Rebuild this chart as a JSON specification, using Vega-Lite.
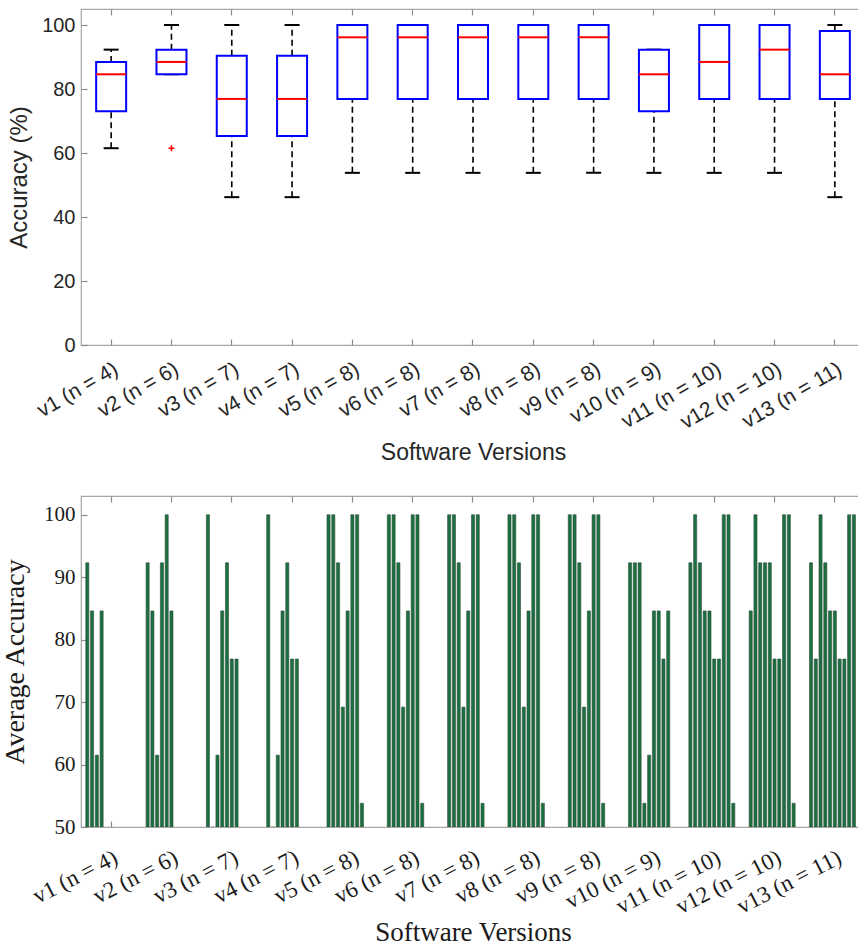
{
  "$schema": "https://vega.github.io/schema/vega-lite/v6.json",
  "padding": {"left": 0, "top": 7, "right": 0, "bottom": 0},
  "background": "white",
  "config": {
    "font": "Liberation Sans",
    "view": {"stroke": "#a6a6a6", "strokeWidth": 1.2},
    "axis": {"grid": false, "domain": false, "tickColor": "#8c8c8c", "tickSize": -6, "tickWidth": 1.2, "titleFontWeight": "normal",
      "labelFont": "Liberation Sans", "titleFont": "Liberation Sans", "labelColor": "#262626", "titleColor": "#262626"}
  },
  "datasets": {
    "boxes": [
      {"version": "v1 (n = 4)", "lower": 61.5, "q1": 73.05, "median": 84.6, "q3": 88.45, "upper": 92.3},
      {"version": "v2 (n = 6)", "lower": 84.6, "q1": 84.6, "median": 88.45, "q3": 92.3, "upper": 100},
      {"version": "v3 (n = 7)", "lower": 46.2, "q1": 65.35, "median": 76.9, "q3": 90.4, "upper": 100},
      {"version": "v4 (n = 7)", "lower": 46.2, "q1": 65.35, "median": 76.9, "q3": 90.4, "upper": 100},
      {"version": "v5 (n = 8)", "lower": 53.8, "q1": 76.9, "median": 96.15, "q3": 100, "upper": 100},
      {"version": "v6 (n = 8)", "lower": 53.8, "q1": 76.9, "median": 96.15, "q3": 100, "upper": 100},
      {"version": "v7 (n = 8)", "lower": 53.8, "q1": 76.9, "median": 96.15, "q3": 100, "upper": 100},
      {"version": "v8 (n = 8)", "lower": 53.8, "q1": 76.9, "median": 96.15, "q3": 100, "upper": 100},
      {"version": "v9 (n = 8)", "lower": 53.8, "q1": 76.9, "median": 96.15, "q3": 100, "upper": 100},
      {"version": "v10 (n = 9)", "lower": 53.8, "q1": 73.05, "median": 84.6, "q3": 92.3, "upper": 92.3},
      {"version": "v11 (n = 10)", "lower": 53.8, "q1": 76.9, "median": 88.45, "q3": 100, "upper": 100},
      {"version": "v12 (n = 10)", "lower": 53.8, "q1": 76.9, "median": 92.3, "q3": 100, "upper": 100},
      {"version": "v13 (n = 11)", "lower": 46.2, "q1": 76.9, "median": 84.6, "q3": 98.1, "upper": 100}
    ],
    "outliers": [
      {"version": "v2 (n = 6)", "acc": 61.5}
    ],
    "bars": [
      {"version": "v1 (n = 4)", "slot": 1, "acc": 92.3},
      {"version": "v1 (n = 4)", "slot": 2, "acc": 84.6},
      {"version": "v1 (n = 4)", "slot": 3, "acc": 61.5},
      {"version": "v1 (n = 4)", "slot": 4, "acc": 84.6},
      {"version": "v2 (n = 6)", "slot": 1, "acc": 92.3},
      {"version": "v2 (n = 6)", "slot": 2, "acc": 84.6},
      {"version": "v2 (n = 6)", "slot": 3, "acc": 61.5},
      {"version": "v2 (n = 6)", "slot": 4, "acc": 92.3},
      {"version": "v2 (n = 6)", "slot": 5, "acc": 100},
      {"version": "v2 (n = 6)", "slot": 6, "acc": 84.6},
      {"version": "v3 (n = 7)", "slot": 1, "acc": 100},
      {"version": "v3 (n = 7)", "slot": 2, "acc": 46.2},
      {"version": "v3 (n = 7)", "slot": 3, "acc": 61.5},
      {"version": "v3 (n = 7)", "slot": 4, "acc": 84.6},
      {"version": "v3 (n = 7)", "slot": 5, "acc": 92.3},
      {"version": "v3 (n = 7)", "slot": 6, "acc": 76.9},
      {"version": "v3 (n = 7)", "slot": 7, "acc": 76.9},
      {"version": "v4 (n = 7)", "slot": 1, "acc": 100},
      {"version": "v4 (n = 7)", "slot": 2, "acc": 46.2},
      {"version": "v4 (n = 7)", "slot": 3, "acc": 61.5},
      {"version": "v4 (n = 7)", "slot": 4, "acc": 84.6},
      {"version": "v4 (n = 7)", "slot": 5, "acc": 92.3},
      {"version": "v4 (n = 7)", "slot": 6, "acc": 76.9},
      {"version": "v4 (n = 7)", "slot": 7, "acc": 76.9},
      {"version": "v5 (n = 8)", "slot": 1, "acc": 100},
      {"version": "v5 (n = 8)", "slot": 2, "acc": 100},
      {"version": "v5 (n = 8)", "slot": 3, "acc": 92.3},
      {"version": "v5 (n = 8)", "slot": 4, "acc": 69.2},
      {"version": "v5 (n = 8)", "slot": 5, "acc": 84.6},
      {"version": "v5 (n = 8)", "slot": 6, "acc": 100},
      {"version": "v5 (n = 8)", "slot": 7, "acc": 100},
      {"version": "v5 (n = 8)", "slot": 8, "acc": 53.8},
      {"version": "v6 (n = 8)", "slot": 1, "acc": 100},
      {"version": "v6 (n = 8)", "slot": 2, "acc": 100},
      {"version": "v6 (n = 8)", "slot": 3, "acc": 92.3},
      {"version": "v6 (n = 8)", "slot": 4, "acc": 69.2},
      {"version": "v6 (n = 8)", "slot": 5, "acc": 84.6},
      {"version": "v6 (n = 8)", "slot": 6, "acc": 100},
      {"version": "v6 (n = 8)", "slot": 7, "acc": 100},
      {"version": "v6 (n = 8)", "slot": 8, "acc": 53.8},
      {"version": "v7 (n = 8)", "slot": 1, "acc": 100},
      {"version": "v7 (n = 8)", "slot": 2, "acc": 100},
      {"version": "v7 (n = 8)", "slot": 3, "acc": 92.3},
      {"version": "v7 (n = 8)", "slot": 4, "acc": 69.2},
      {"version": "v7 (n = 8)", "slot": 5, "acc": 84.6},
      {"version": "v7 (n = 8)", "slot": 6, "acc": 100},
      {"version": "v7 (n = 8)", "slot": 7, "acc": 100},
      {"version": "v7 (n = 8)", "slot": 8, "acc": 53.8},
      {"version": "v8 (n = 8)", "slot": 1, "acc": 100},
      {"version": "v8 (n = 8)", "slot": 2, "acc": 100},
      {"version": "v8 (n = 8)", "slot": 3, "acc": 92.3},
      {"version": "v8 (n = 8)", "slot": 4, "acc": 69.2},
      {"version": "v8 (n = 8)", "slot": 5, "acc": 84.6},
      {"version": "v8 (n = 8)", "slot": 6, "acc": 100},
      {"version": "v8 (n = 8)", "slot": 7, "acc": 100},
      {"version": "v8 (n = 8)", "slot": 8, "acc": 53.8},
      {"version": "v9 (n = 8)", "slot": 1, "acc": 100},
      {"version": "v9 (n = 8)", "slot": 2, "acc": 100},
      {"version": "v9 (n = 8)", "slot": 3, "acc": 92.3},
      {"version": "v9 (n = 8)", "slot": 4, "acc": 69.2},
      {"version": "v9 (n = 8)", "slot": 5, "acc": 84.6},
      {"version": "v9 (n = 8)", "slot": 6, "acc": 100},
      {"version": "v9 (n = 8)", "slot": 7, "acc": 100},
      {"version": "v9 (n = 8)", "slot": 8, "acc": 53.8},
      {"version": "v10 (n = 9)", "slot": 1, "acc": 92.3},
      {"version": "v10 (n = 9)", "slot": 2, "acc": 92.3},
      {"version": "v10 (n = 9)", "slot": 3, "acc": 92.3},
      {"version": "v10 (n = 9)", "slot": 4, "acc": 53.8},
      {"version": "v10 (n = 9)", "slot": 5, "acc": 61.5},
      {"version": "v10 (n = 9)", "slot": 6, "acc": 84.6},
      {"version": "v10 (n = 9)", "slot": 7, "acc": 84.6},
      {"version": "v10 (n = 9)", "slot": 8, "acc": 76.9},
      {"version": "v10 (n = 9)", "slot": 9, "acc": 84.6},
      {"version": "v11 (n = 10)", "slot": 1, "acc": 92.3},
      {"version": "v11 (n = 10)", "slot": 2, "acc": 100},
      {"version": "v11 (n = 10)", "slot": 3, "acc": 92.3},
      {"version": "v11 (n = 10)", "slot": 4, "acc": 84.6},
      {"version": "v11 (n = 10)", "slot": 5, "acc": 84.6},
      {"version": "v11 (n = 10)", "slot": 6, "acc": 76.9},
      {"version": "v11 (n = 10)", "slot": 7, "acc": 76.9},
      {"version": "v11 (n = 10)", "slot": 8, "acc": 100},
      {"version": "v11 (n = 10)", "slot": 9, "acc": 100},
      {"version": "v11 (n = 10)", "slot": 10, "acc": 53.8},
      {"version": "v12 (n = 10)", "slot": 1, "acc": 84.6},
      {"version": "v12 (n = 10)", "slot": 2, "acc": 100},
      {"version": "v12 (n = 10)", "slot": 3, "acc": 92.3},
      {"version": "v12 (n = 10)", "slot": 4, "acc": 92.3},
      {"version": "v12 (n = 10)", "slot": 5, "acc": 92.3},
      {"version": "v12 (n = 10)", "slot": 6, "acc": 76.9},
      {"version": "v12 (n = 10)", "slot": 7, "acc": 76.9},
      {"version": "v12 (n = 10)", "slot": 8, "acc": 100},
      {"version": "v12 (n = 10)", "slot": 9, "acc": 100},
      {"version": "v12 (n = 10)", "slot": 10, "acc": 53.8},
      {"version": "v13 (n = 11)", "slot": 1, "acc": 92.3},
      {"version": "v13 (n = 11)", "slot": 2, "acc": 76.9},
      {"version": "v13 (n = 11)", "slot": 3, "acc": 100},
      {"version": "v13 (n = 11)", "slot": 4, "acc": 92.3},
      {"version": "v13 (n = 11)", "slot": 5, "acc": 84.6},
      {"version": "v13 (n = 11)", "slot": 6, "acc": 84.6},
      {"version": "v13 (n = 11)", "slot": 7, "acc": 76.9},
      {"version": "v13 (n = 11)", "slot": 8, "acc": 76.9},
      {"version": "v13 (n = 11)", "slot": 9, "acc": 100},
      {"version": "v13 (n = 11)", "slot": 10, "acc": 100},
      {"version": "v13 (n = 11)", "slot": 11, "acc": 46.2}
    ]
  },
  "spacing": 28,
  "vconcat": [
    {
      "width": 784,
      "height": 336,
      "resolve": {"axis": {"x": "independent"}},
      "layer": [
        {
          "data": {"name": "boxes"},
          "encoding": {
            "x": {
              "field": "version", "type": "nominal", "sort": null,
              "scale": {"paddingInner": 0, "paddingOuter": 0},
              "axis": {
                "title": "Software Versions", "labelAngle": -30, "labelFont": "Liberation Sans", "labelFontSize": 21,
                "labelPadding": 19, "labelDx": 6, "titleFont": "Liberation Sans", "titleFontSize": 23, "titlePadding": 9
              }
            }
          },
          "layer": [
            {
              "mark": {"type": "rule", "color": "black", "strokeWidth": 1.6, "strokeDash": [6, 4]},
              "encoding": {
                "y": {"field": "q3", "type": "quantitative", "scale": {"domain": [0, 105], "nice": false},
                  "axis": {"title": "Accuracy (%)", "values": [0, 20, 40, 60, 80, 100], "labelFont": "Liberation Sans", "labelFontSize": 20,
                    "labelPadding": 12, "titleFont": "Liberation Sans", "titleFontSize": 24, "titlePadding": 10}},
                "y2": {"field": "upper"}
              }
            },
            {
              "mark": {"type": "rule", "color": "black", "strokeWidth": 1.6, "strokeDash": [6, 4]},
              "encoding": {"y": {"field": "lower", "type": "quantitative"}, "y2": {"field": "q1"}}
            },
            {
              "mark": {"type": "tick", "color": "black", "size": 15, "thickness": 2, "opacity": 1},
              "encoding": {"y": {"field": "upper", "type": "quantitative"}}
            },
            {
              "mark": {"type": "tick", "color": "black", "size": 15, "thickness": 2, "opacity": 1},
              "encoding": {"y": {"field": "lower", "type": "quantitative"}}
            },
            {
              "mark": {"type": "bar", "size": 30, "fill": "white", "stroke": "#0000ff", "strokeWidth": 2},
              "encoding": {"y": {"field": "q1", "type": "quantitative"}, "y2": {"field": "q3"}}
            },
            {
              "mark": {"type": "tick", "color": "#ff0000", "size": 30, "thickness": 2, "opacity": 1},
              "encoding": {"y": {"field": "median", "type": "quantitative"}}
            },
            {
              "data": {"name": "outliers"},
              "mark": {"type": "point", "shape": "M-1,0L1,0M0,-1L0,1", "filled": false, "stroke": "#ff0000", "strokeWidth": 1.6, "size": 36, "opacity": 1},
              "encoding": {"y": {"field": "acc", "type": "quantitative"}}
            }
          ]
        },
        {
          "data": {"name": "boxes"},
          "mark": {"type": "rule", "opacity": 0},
          "encoding": {
            "x": {"field": "version", "type": "nominal", "sort": null,
              "axis": {"orient": "top", "labels": false, "title": null}}
          }
        }
      ]
    },
    {
      "width": 784,
      "height": 331,
      "resolve": {"axis": {"x": "independent"}},
      "data": {"name": "bars"},
      "layer": [
        {
          "mark": {"type": "bar", "clip": true, "fill": "#1b7041", "stroke": "#2f4f3a", "strokeWidth": 0.6},
          "encoding": {
            "x": {
              "field": "version", "type": "nominal", "sort": null,
              "scale": {"paddingInner": 0, "paddingOuter": 0},
              "axis": {
                "title": "Software Versions", "labelAngle": -27, "labelFont": "Liberation Serif", "labelFontSize": 23,
                "labelColor": "#1a1a1a", "labelPadding": 25, "labelDx": 6, "titleFont": "Liberation Serif", "titleFontSize": 27,
                "titleColor": "#1a1a1a", "titlePadding": 1
              }
            },
            "xOffset": {"field": "slot", "type": "ordinal", "scale": {"paddingInner": 0.35, "paddingOuter": 1.55}},
            "y": {
              "field": "acc", "type": "quantitative", "scale": {"domain": [50, 103], "nice": false, "zero": false},
              "axis": {"title": "Average Accuracy", "values": [50, 60, 70, 80, 90, 100], "labelFont": "Liberation Serif", "labelFontSize": 21,
                "labelColor": "#1a1a1a", "labelPadding": 12, "titleFont": "Liberation Serif", "titleFontSize": 28, "titleColor": "#1a1a1a", "titlePadding": 14}
            },
            "y2": {"datum": 50}
          }
        },
        {
          "mark": {"type": "rule", "opacity": 0},
          "encoding": {
            "x": {"field": "version", "type": "nominal", "sort": null,
              "axis": {"orient": "top", "labels": false, "title": null}}
          }
        }
      ]
    }
  ]
}
